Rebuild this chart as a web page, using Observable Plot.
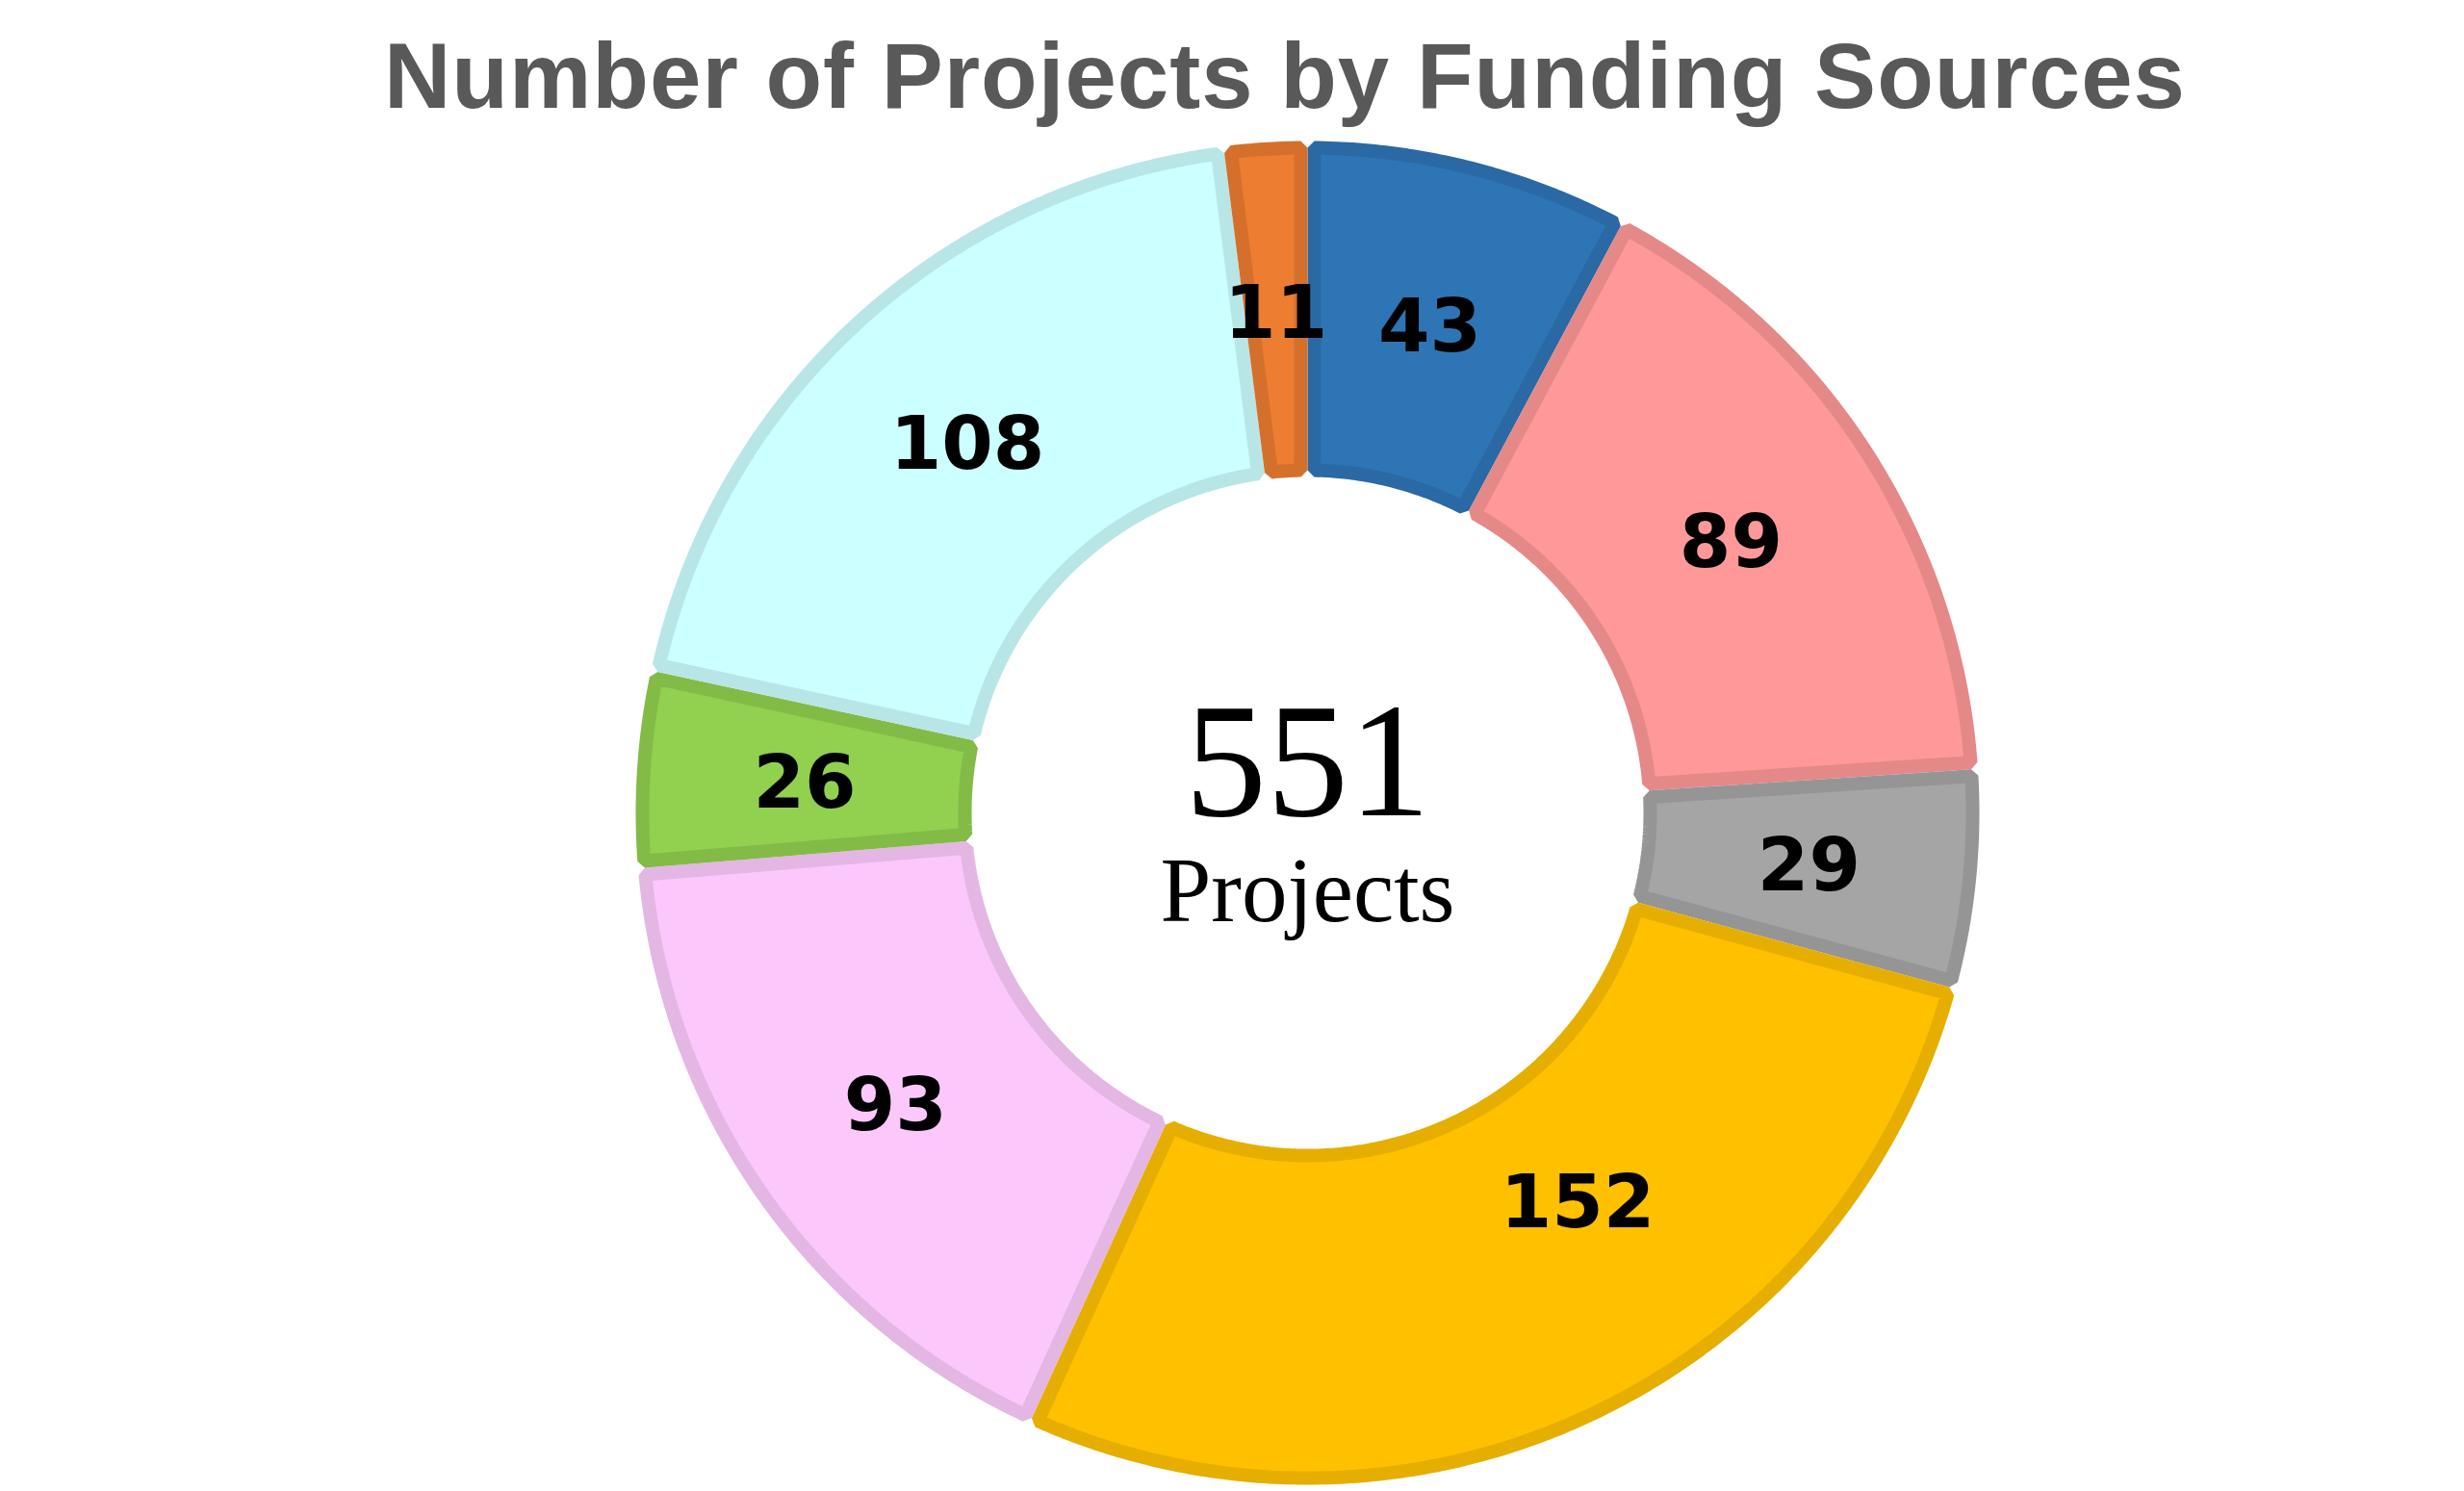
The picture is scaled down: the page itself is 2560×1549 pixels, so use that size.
<!DOCTYPE html>
<html>
<head>
<meta charset="utf-8">
<script src="https://cdn.jsdelivr.net/npm/d3@7"></script>
<script src="https://cdn.jsdelivr.net/npm/@observablehq/plot@0.6"></script>
<style>
  html, body { margin: 0; padding: 0; background: #ffffff; }
  #title {
    width: 2560px; box-sizing: border-box; height: 130px;
    padding-left: 110px; padding-top: 31px;
    font-family: "Liberation Sans", Arial, sans-serif; font-weight: bold; font-size: 96px; line-height: 1;
    letter-spacing: 1px;
    color: #595959; text-align: center; white-space: nowrap;
  }
</style>
</head>
<body>
<div id="title">Number of Projects by Funding Sources</div>
<div id="chart"></div>
<script>
// Data (clockwise from 12 o'clock)
const sources = ["S1", "S2", "S3", "S4", "S5", "S6", "S7", "S8"];
const counts = [43, 89, 29, 152, 93, 26, 108, 11];
const fills = ["#2E75B6", "#FF9999", "#A5A5A5", "#FFC000", "#FCC8FC", "#92D050", "#CCFFFF", "#ED7D31"];
const borders = ["#2A69A4", "#E58888", "#959595", "#E6AE00", "#E4B6E4", "#83BB47", "#B8E6E6", "#D5702C"];
const centerNumber = "551";
const centerLabel = "Projects";

const R_OUT = 1, R_IN = 0.5;
const PX_PER_UNIT = 698;
const BORDER_PX = 14;
const d = (BORDER_PX / 2) / PX_PER_UNIT;

const total = d3.sum(counts);
let acc = 0;
const slices = counts.map((v, i) => {
  const a0 = acc / total * 2 * Math.PI;
  acc += v;
  const a1 = acc / total * 2 * Math.PI;
  return {name: sources[i], value: v, a0, a1, fill: fills[i], stroke: borders[i]};
});

function slicePolygon(s) {
  const ro = R_OUT - d, ri = R_IN + d;
  const oo = Math.asin(d / ro), oi = Math.asin(d / ri);
  const pts = [];
  const n = Math.max(8, Math.ceil((s.a1 - s.a0) / (Math.PI / 360)));
  for (let k = 0; k <= n; k++) {
    const a = (s.a0 + oo) + (s.a1 - s.a0 - 2 * oo) * k / n;
    pts.push({x: ro * Math.sin(a), y: ro * Math.cos(a)});
  }
  for (let k = n; k >= 0; k--) {
    const a = (s.a0 + oi) + (s.a1 - s.a0 - 2 * oi) * k / n;
    pts.push({x: ri * Math.sin(a), y: ri * Math.cos(a)});
  }
  pts.push(pts[0], pts[1]);
  return pts;
}

const labels = slices.map(s => {
  const m = (s.a0 + s.a1) / 2, r = (R_OUT + R_IN) / 2;
  return {x: r * Math.sin(m), y: r * Math.cos(m), text: String(s.value), name: s.name};
});

const cx = 1358, W = 2560, H = 1419, cyInSvg = 714;
const R = PX_PER_UNIT;
const labelFont = {fontFamily: "DejaVu Sans", fontWeight: "bold", fontSize: 77, fill: "#000000"};

const plot = Plot.plot({
  width: W,
  height: H,
  marginLeft: cx - R,
  marginRight: W - (cx + R),
  marginTop: cyInSvg - R,
  marginBottom: H - (cyInSvg + R),
  x: {domain: [-1, 1], axis: null},
  y: {domain: [-1, 1], axis: null},
  style: {background: "white", overflow: "visible"},
  marks: [
    ...slices.map(s => Plot.line(slicePolygon(s), {
      x: "x", y: "y", fill: s.fill, stroke: s.stroke,
      strokeWidth: BORDER_PX, strokeLinejoin: "miter", strokeLinecap: "butt", curve: "linear"
    })),
    Plot.text(labels.filter(l => l.name !== "S4"), {
      x: "x", y: "y", text: "text", dy: 4, ...labelFont
    }),
    // the largest slice's label sits a little off the mid-angle in the original
    Plot.text(labels.filter(l => l.name === "S4"), {
      x: "x", y: "y", text: "text", dx: 58, dy: -68, ...labelFont
    }),
    Plot.text([centerNumber], {
      x: () => 0, y: () => 0, text: t => t,
      fontFamily: "Liberation Serif", fontSize: 170, fill: "#000000", dy: -52
    }),
    Plot.text([centerLabel], {
      x: () => 0, y: () => 0, text: t => t,
      fontFamily: "Liberation Serif", fontSize: 95, fill: "#000000", dy: 82
    })
  ]
});
document.getElementById("chart").appendChild(plot);
</script>
</body>
</html>
